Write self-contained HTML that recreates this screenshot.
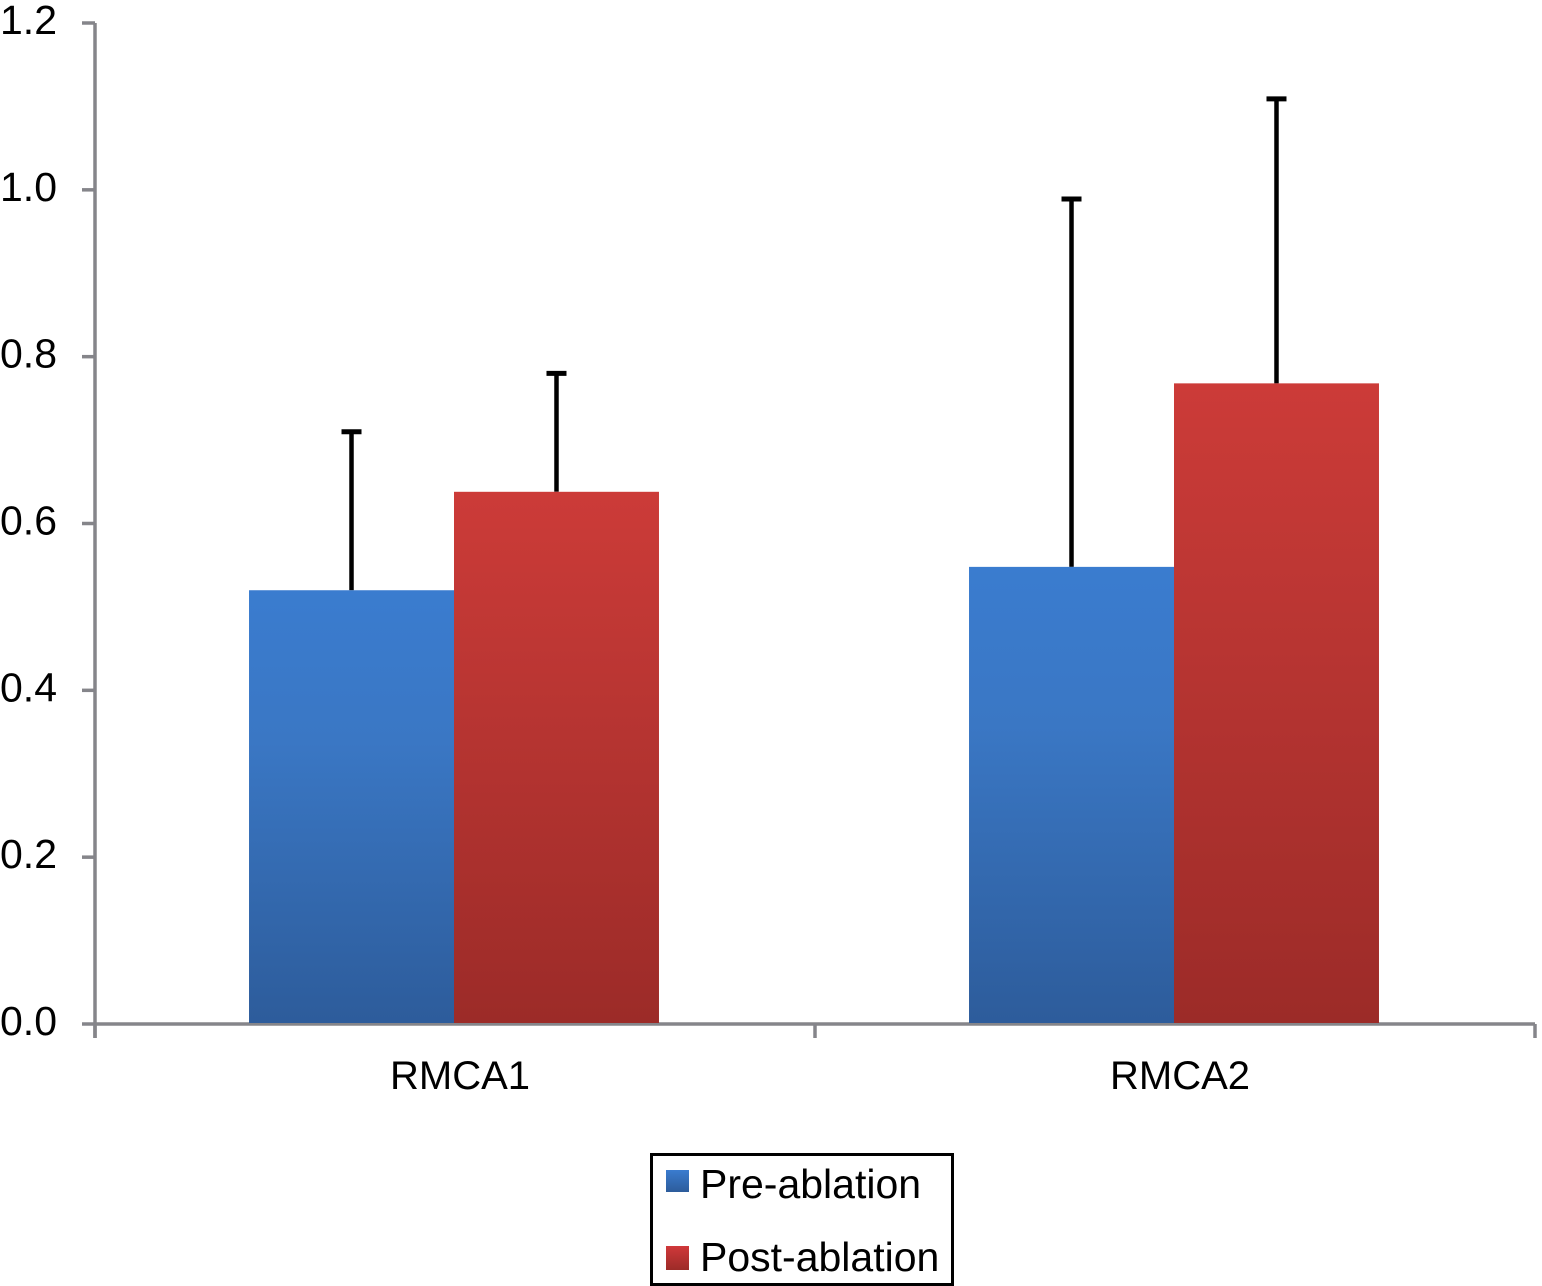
<!DOCTYPE html>
<html lang="en">
<head>
<meta charset="utf-8">
<title>RMCA pre- and post-ablation bar chart</title>
<style>
html,body{margin:0;padding:0;background:#fff;width:1542px;height:1286px;overflow:hidden}
svg{display:block}
text{font-family:"Liberation Sans",Arial,sans-serif;fill:#000}
</style>
</head>
<body>
<svg id="chart" width="1542" height="1286" viewBox="0 0 1542 1286" xmlns="http://www.w3.org/2000/svg">
<defs>
<linearGradient id="blue-fill" x1="0" y1="0" x2="0" y2="1">
<stop offset="0" stop-color="#3a7ccf"/><stop offset="0.35" stop-color="#3a77c4"/><stop offset="1" stop-color="#2d5c9b"/>
</linearGradient>
<linearGradient id="red-fill" x1="0" y1="0" x2="0" y2="1">
<stop offset="0" stop-color="#cc3b38"/><stop offset="0.35" stop-color="#bb3633"/><stop offset="1" stop-color="#9c2b28"/>
</linearGradient>
<linearGradient id="blue-swatch" x1="0" y1="0" x2="0" y2="1">
<stop offset="0" stop-color="#3a7ccf"/><stop offset="1" stop-color="#2d5c9b"/>
</linearGradient>
<linearGradient id="red-swatch" x1="0" y1="0" x2="0" y2="1">
<stop offset="0" stop-color="#d0383a"/><stop offset="1" stop-color="#9c2b28"/>
</linearGradient>
</defs>
<g id="y-axis-group"></g>
<g id="x-axis-group"></g>
<g id="error-group"></g>
<g id="bar-group"></g>
<g>
<rect x="651.5" y="1154.5" width="301" height="130" fill="#fff" stroke="#000" stroke-width="3"/>
<g>
<rect x="666" y="1170" width="23" height="22" fill="url(#blue-swatch)"/>
<text x="700" y="1198" font-size="41">Pre-ablation</text>
</g>
<g>
<rect x="666" y="1246" width="23" height="24" fill="url(#red-swatch)"/>
<text x="700" y="1271" font-size="41">Post-ablation</text>
</g>
</g>
</svg>
<script>
var categories = ['RMCA1', 'RMCA2'];
var preValues = [0.52, 0.548];
var postValues = [0.638, 0.768];
var preErrorTops = [0.71, 0.989];
var postErrorTops = [0.78, 1.109];
var tickValues = [0, 0.2, 0.4, 0.6, 0.8, 1.0, 1.2];
var tickLabels = ['0.0', '0.2', '0.4', '0.6', '0.8', '1.0', '1.2'];

var NS = 'http://www.w3.org/2000/svg';
var plot = { left: 95, right: 1535, top: 23, bottom: 1024, max: 1.2 };
var AXIS = '#85858a';

function y(v) { return plot.bottom - (v / plot.max) * (plot.bottom - plot.top); }
function bandLeft(i) { return plot.left + i * (plot.right - plot.left) / categories.length; }
function bandWidth() { return (plot.right - plot.left) / categories.length; }
function bandCenter(i) { return bandLeft(i) + bandWidth() / 2; }
function barWidth() { return bandWidth() * 0.2847; }

function make(parent, tag, attrs) {
  var el = document.createElementNS(NS, tag);
  for (var k in attrs) { el.setAttribute(k, attrs[k]); }
  parent.appendChild(el);
  return el;
}

var yAxis = document.getElementById('y-axis-group');
var xAxis = document.getElementById('x-axis-group');
var errors = document.getElementById('error-group');
var bars = document.getElementById('bar-group');

var yLine = make(yAxis, 'line', { x1: plot.left, x2: plot.left, y1: y(plot.max), y2: plot.bottom + 14, stroke: AXIS, 'stroke-width': 3.5 });



tickValues.forEach(function (v, i) {
  var t = make(yAxis, 'line', { x1: plot.left - 13, x2: plot.left, y1: y(v), y2: y(v), stroke: AXIS, 'stroke-width': 3.5 });
  
  
  var l = make(yAxis, 'text', { x: 0, y: y(v) + 11, 'font-size': 41 });
  
  
  l.textContent = tickLabels[i];
});

var xLine = make(xAxis, 'line', { x1: plot.left, x2: plot.right, y1: plot.bottom, y2: plot.bottom, stroke: AXIS, 'stroke-width': 3.5 });



for (var b = 0; b <= categories.length; b++) {
  var tx = bandLeft(b);
  var xt = make(xAxis, 'line', { x1: tx, x2: tx, y1: plot.bottom, y2: plot.bottom + 14, stroke: AXIS, 'stroke-width': 3.5 });
  
  
}

categories.forEach(function (c, i) {
  var cx = bandCenter(i);
  var w = barWidth();
  var l = make(xAxis, 'text', { x: cx + 5, y: 1089, 'font-size': 40, 'text-anchor': 'middle' });
  
  
  l.textContent = c;

  var preX = cx - w - 1;
  var postX = cx - 1;

  function errorBar(top, base, mid, name) {
    var s = make(errors, 'line', { x1: mid, x2: mid, y1: y(top), y2: y(base), stroke: '#000', 'stroke-width': 4.5 });
    
    
    var cap = make(errors, 'line', { x1: mid - 10, x2: mid + 10, y1: y(top), y2: y(top), stroke: '#000', 'stroke-width': 5 });
    
    
  }
  errorBar(preErrorTops[i], preValues[i], preX + w / 2, 'error-bar-pre');
  errorBar(postErrorTops[i], postValues[i], postX + w / 2, 'error-bar-post');

  var preBar = make(bars, 'rect', { x: preX, y: y(preValues[i]), width: w, height: plot.bottom - y(preValues[i]) - 1, fill: 'url(#blue-fill)' });
  
  
  var postBar = make(bars, 'rect', { x: postX, y: y(postValues[i]), width: w, height: plot.bottom - y(postValues[i]) - 1, fill: 'url(#red-fill)' });
  
  
});
</script>
</body>
</html>
